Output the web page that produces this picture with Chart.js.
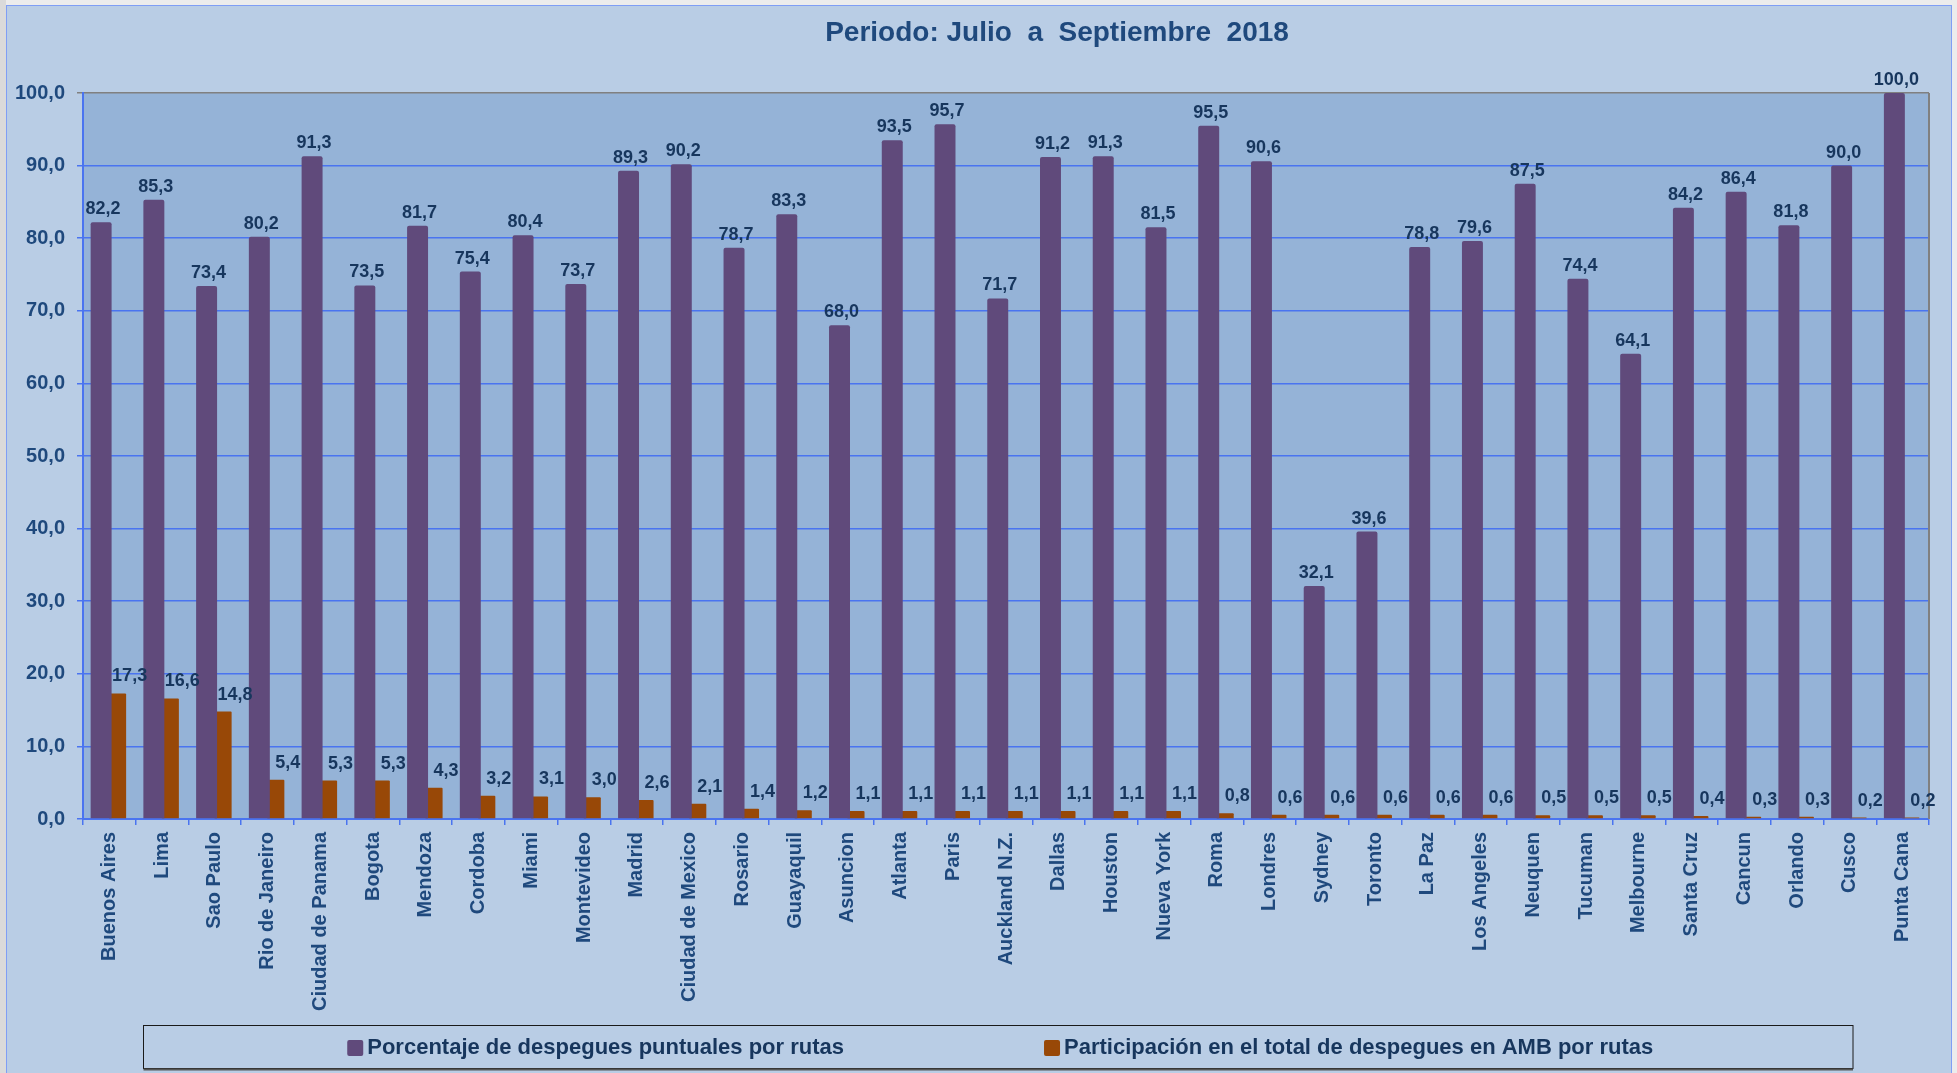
<!DOCTYPE html>
<html>
<head>
<meta charset="utf-8">
<title>Periodo: Julio a Septiembre 2018</title>
<script src="https://cdn.jsdelivr.net/npm/chart.js@4.4.0/dist/chart.umd.min.js"></script>
<style>
  html, body { margin: 0; padding: 0; background: #ececec; }
</style>
</head>
<body>
<canvas id="rutasChart" width="1957" height="1073"></canvas>
<script>
const titulo = "Periodo: Julio  a  Septiembre  2018";

const rutas = [
  "Buenos Aires", "Lima", "Sao Paulo", "Rio de Janeiro", "Ciudad de Panama",
  "Bogota", "Mendoza", "Cordoba", "Miami", "Montevideo", "Madrid",
  "Ciudad de Mexico", "Rosario", "Guayaquil", "Asuncion", "Atlanta", "Paris",
  "Auckland N.Z.", "Dallas", "Houston", "Nueva York", "Roma", "Londres",
  "Sydney", "Toronto", "La Paz", "Los Angeles", "Neuquen", "Tucuman",
  "Melbourne", "Santa Cruz", "Cancun", "Orlando", "Cusco", "Punta Cana"
];

const puntualidad = [
  82.2, 85.3, 73.4, 80.2, 91.3, 73.5, 81.7, 75.4, 80.4, 73.7, 89.3,
  90.2, 78.7, 83.3, 68.0, 93.5, 95.7, 71.7, 91.2, 91.3, 81.5, 95.5,
  90.6, 32.1, 39.6, 78.8, 79.6, 87.5, 74.4, 64.1, 84.2, 86.4, 81.8,
  90.0, 100.0
];

const participacion = [
  17.3, 16.6, 14.8, 5.4, 5.3, 5.3, 4.3, 3.2, 3.1, 3.0, 2.6,
  2.1, 1.4, 1.2, 1.1, 1.1, 1.1, 1.1, 1.1, 1.1, 1.1, 0.8,
  0.6, 0.6, 0.6, 0.6, 0.6, 0.5, 0.5, 0.5, 0.4, 0.3, 0.3,
  0.2, 0.2
];

const series = [
  "Porcentaje de despegues puntuales por rutas",
  "Participación en el total de despegues en AMB por rutas"
];

const yTicks = [0, 10, 20, 30, 40, 50, 60, 70, 80, 90, 100];

const FONT = "'Liberation Sans', Arial, sans-serif";
const azulTexto = "#1f497d";
const azulOscuro = "#17365d";
const azulLinea = "#4a74f0";

function coma(v) {
  return Number(v).toFixed(1).replace(".", ",");
}

// fondo, marco del grafico y titulo
const fondo = {
  id: "fondo",
  beforeDraw(chart) {
    const { ctx, chartArea: a, width, height } = chart;
    ctx.save();
    ctx.fillStyle = "#ececec";
    ctx.fillRect(0, 0, width, height);
    ctx.fillStyle = "#dadada";
    ctx.fillRect(0, 0, 6, height);
    ctx.fillStyle = "#b9cde5";
    ctx.fillRect(6, 5, width - 11, height - 5);
    ctx.strokeStyle = "#7f9ef5";
    ctx.lineWidth = 1;
    ctx.strokeRect(6.5, 5.5, width - 12, height + 2);
    ctx.fillStyle = "#95b3d7";
    ctx.fillRect(a.left, a.top, a.right - a.left, a.bottom - a.top);

    ctx.fillStyle = azulTexto;
    ctx.font = "bold 28px " + FONT;
    ctx.textAlign = "center";
    ctx.textBaseline = "alphabetic";
    ctx.fillText(titulo, 1057, 41);
    ctx.restore();
  },
  beforeDatasetsDraw(chart) {
    const { ctx, chartArea: a } = chart;
    ctx.save();
    ctx.strokeStyle = "#808080";
    ctx.lineWidth = 2;
    ctx.beginPath();
    ctx.moveTo(a.right, a.top);
    ctx.lineTo(a.right, a.bottom);
    ctx.stroke();
    ctx.restore();
  }
};

// etiquetas de valores sobre las barras
const etiquetas = {
  id: "etiquetas",
  afterDatasetsDraw(chart) {
    const { ctx } = chart;
    ctx.save();
    ctx.font = "bold 18px " + FONT;
    ctx.fillStyle = azulOscuro;
    ctx.textAlign = "center";
    ctx.textBaseline = "alphabetic";
    chart.data.datasets.forEach((ds, i) => {
      const meta = chart.getDatasetMeta(i);
      meta.data.forEach((bar, j) => {
        const dx = i === 0 ? 2 : 12;
        const dy = i === 0 ? 8 : 12;
        ctx.fillText(coma(ds.data[j]), bar.x + dx, bar.y - dy);
      });
    });
    ctx.restore();
  }
};

// leyenda en recuadro al pie
const leyenda = {
  id: "leyenda",
  afterDraw(chart) {
    const { ctx } = chart;
    const box = { left: 143.5, right: 1853, top: 1025.5, bottom: 1068.5 };
    ctx.save();
    ctx.strokeStyle = "#1a1a1a";
    ctx.lineWidth = 1;
    ctx.strokeRect(box.left, box.top, box.right - box.left, box.bottom - box.top);
    ctx.strokeStyle = "#555555";
    ctx.lineWidth = 2;
    ctx.beginPath();
    ctx.moveTo(box.left, box.bottom + 1);
    ctx.lineTo(box.right, box.bottom + 1);
    ctx.stroke();

    ctx.font = "bold 22px " + FONT;
    ctx.textBaseline = "middle";
    ctx.textAlign = "left";
    const sw = 16, gap = 4, sep = 200;
    const items = chart.data.datasets.map((ds) => ({
      text: ds.label,
      color: ds.backgroundColor,
      w: sw + gap + ctx.measureText(ds.label).width
    }));
    const total = items.reduce((s, it) => s + it.w, 0) + sep * (items.length - 1);
    let x = (box.left + box.right) / 2 - total / 2 + 2;
    const cy = (box.top + box.bottom) / 2 + 1;
    items.forEach((it) => {
      ctx.fillStyle = it.color;
      ctx.beginPath();
      ctx.roundRect(x, cy - 8, sw, sw, 2);
      ctx.fill();
      ctx.fillStyle = azulOscuro;
      ctx.fillText(it.text, x + sw + gap, cy);
      x += it.w + sep;
    });
    ctx.restore();
  }
};

const ctx = document.getElementById("rutasChart").getContext("2d");

new Chart(ctx, {
  type: "bar",
  data: {
    labels: rutas,
    datasets: [
      {
        label: series[0],
        data: puntualidad,
        backgroundColor: "#604a7b",
        borderRadius: 2,
        borderSkipped: "bottom",
        categoryPercentage: 0.626,
        barPercentage: 1.27
      },
      {
        label: series[1],
        data: participacion,
        backgroundColor: "#984807",
        borderRadius: 1,
        borderSkipped: "bottom",
        categoryPercentage: 0.626,
        barPercentage: 1.03
      }
    ]
  },
  options: {
    responsive: false,
    animation: false,
    layout: { padding: { top: 93, right: 28, bottom: 0, left: 0 } },
    plugins: {
      legend: { display: false },
      title: { display: false },
      tooltip: { enabled: false }
    },
    scales: {
      x: {
        grid: {
          offset: true,
          drawOnChartArea: false,
          drawTicks: true,
          tickLength: 6,
          color: azulLinea,
          lineWidth: 1.5
        },
        border: { color: azulLinea, width: 2 },
        ticks: {
          autoSkip: false,
          minRotation: 90,
          maxRotation: 90,
          padding: 7,
          color: azulTexto,
          font: { family: FONT, size: 20, weight: "bold" }
        },
        afterFit: (scale) => { scale.height = 254; }
      },
      y: {
        min: 0,
        max: 100,
        afterBuildTicks: (scale) => {
          scale.ticks = yTicks.map((v) => ({ value: v }));
        },
        grid: {
          color: (c) => (c.tick && c.tick.value === 100 ? "#808080" : azulLinea),
          lineWidth: 1.5,
          tickLength: 6
        },
        border: { color: azulLinea, width: 2 },
        ticks: {
          padding: 12,
          color: azulTexto,
          font: { family: FONT, size: 20, weight: "bold" },
          callback: (v) => coma(v)
        },
        afterFit: (scale) => { scale.width = 83; }
      }
    }
  },
  plugins: [fondo, etiquetas, leyenda]
});
</script>
</body>
</html>
